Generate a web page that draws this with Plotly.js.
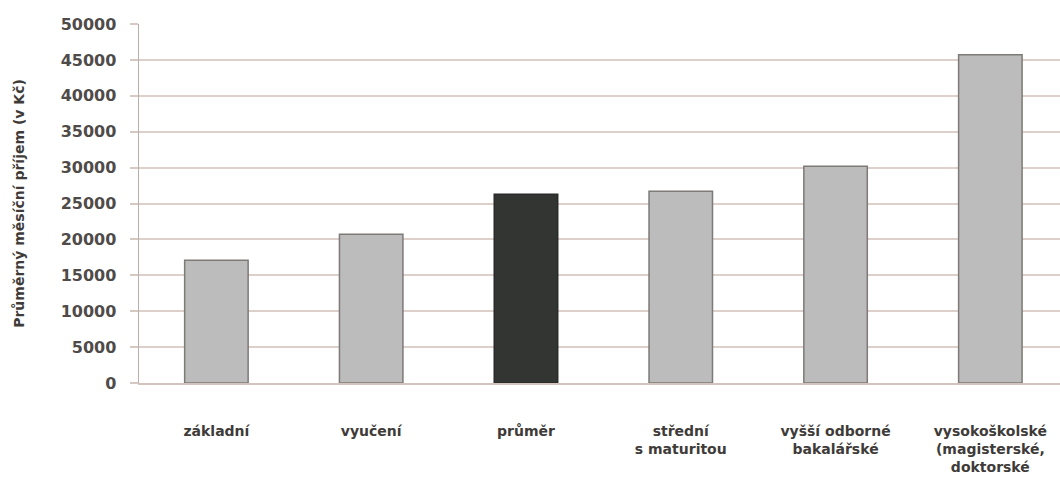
<!DOCTYPE html>
<html>
<head>
<meta charset="utf-8">
<script src="https://cdn.plot.ly/plotly-3.0.1.min.js"></script>
<style>html,body{margin:0;padding:0;background:#fff;}#chart{width:1060px;height:479px;}</style>
</head>
<body>
<div id="chart"></div>
<script>
const categories = ["základní", "vyučení", "průměr", "střední s maturitou", "vyšší odborné bakalářské", "vysokoškolské (magisterské, doktorské"];
const tickLabels = ["základní", "vyučení", "průměr", "střední<br>s maturitou", "vyšší odborné<br>bakalářské", "vysokoškolské<br>(magisterské,<br>doktorské"];
const incomes = [17100, 20700, 26300, 26700, 30200, 45700];
const barColors = ["#bcbcbc", "#bcbcbc", "#333533", "#bcbcbc", "#bcbcbc", "#bcbcbc"];
const lineColors = ["#7d7a78", "#7d7a78", "#2a2a2a", "#7d7a78", "#7d7a78", "#7d7a78"];
const yTicks = [0, 5000, 10000, 15000, 20000, 25000, 30000, 35000, 40000, 45000, 50000];
const yTitle = "Průměrný měsíční příjem (v Kč)";

const xIdx = categories.map((c, i) => i);
const font = "DejaVu Sans, sans-serif";

Plotly.newPlot("chart", [{
  type: "bar",
  x: xIdx,
  y: incomes,
  width: 0.41,
  marker: {color: barColors, line: {color: lineColors, width: 1.5}},
  hoverinfo: "x+y"
}], {
  width: 1060, height: 479,
  margin: {l: 139, r: 0, t: 24, b: 96},
  paper_bgcolor: "#fff", plot_bgcolor: "#fff",
  showlegend: false,
  font: {family: font, color: "#4a4745", size: 14},
  xaxis: {
    range: [-0.5, 5.45],
    tickmode: "array", tickvals: xIdx, ticktext: tickLabels,
    ticks: "", showgrid: false, zeroline: false,
    showline: true, linecolor: "#d3c3bd", linewidth: 2,
    tickfont: {family: font, size: 14, color: "#3e3b39", weight: "bold"},
    ticklabelstandoff: 34
  },
  yaxis: {
    range: [0, 50000],
    tickmode: "array", tickvals: yTicks, tickformat: "d",
    ticks: "outside", ticklen: 8, tickcolor: "#d6c8c3", tickwidth: 2,
    showgrid: true, gridcolor: "#ddd0cb", gridwidth: 2,
    zeroline: false, showline: true, linecolor: "#b8aeaa", linewidth: 1.5,
    tickfont: {family: font, size: 16, color: "#4f4b49", weight: "bold"},
    ticklabelstandoff: 10,
    title: {text: yTitle, font: {family: font, size: 14, color: "#3e3b39", weight: "bold"}, standoff: 32}
  }
}, {displayModeBar: false, staticPlot: true});
</script>
</body>
</html>
